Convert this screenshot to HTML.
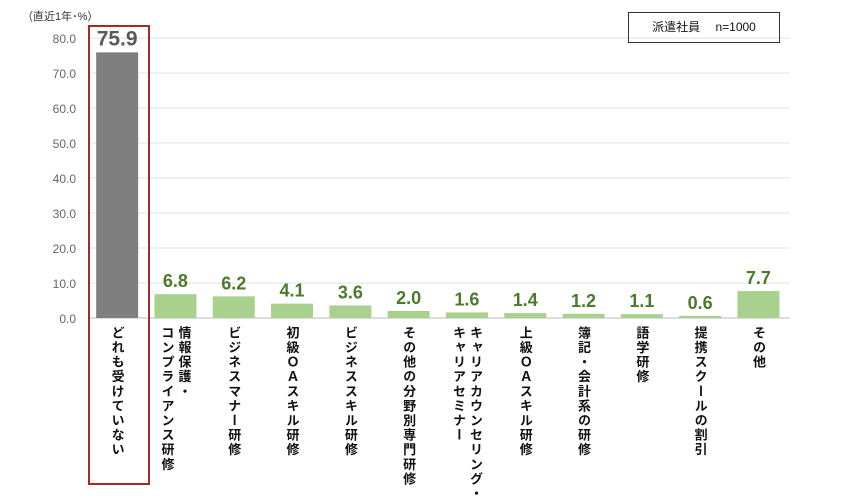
<!DOCTYPE html>
<html><head><meta charset="utf-8"><style>
body{margin:0;width:846px;height:500px;background:#fff;overflow:hidden;font-family:"Liberation Sans","Noto Sans CJK JP",sans-serif;}
svg{position:absolute;left:0;top:0}
.xl{position:absolute;top:326px;writing-mode:vertical-rl;font-size:13px;font-weight:bold;line-height:17px;color:#111;white-space:nowrap;letter-spacing:1.6px;transform:translateX(-50%)}
</style></head><body>
<svg id="c" width="846" height="500"></svg>
<div style="position:absolute;left:628px;top:12px;width:150px;height:29px;border:1px solid #333;font-size:12px;line-height:29px;text-align:center;color:#111">派遣社員　 n=1000</div>
<div style="position:absolute;left:88px;top:25px;width:58px;height:456px;border:2px solid #a52a2a"></div>
<script>
const categories=["どれも受けていない","情報保護・\nコンプライアンス研修","ビジネスマナー研修","初級ＯＡスキル研修","ビジネススキル研修","その他の分野別専門研修","キャリアカウンセリング・\nキャリアセミナー","上級ＯＡスキル研修","簿記・会計系の研修","語学研修","提携スクールの割引","その他"];
const values=[75.9,6.8,6.2,4.1,3.6,2.0,1.6,1.4,1.2,1.1,0.6,7.7];
const ticks=[0,10,20,30,40,50,60,70,80];
const NS="http://www.w3.org/2000/svg",svg=document.getElementById('c');
const y0=318,ppu=3.5,x0=88,step=58.3,bw=42;
const y=v=>y0-v*ppu, xc=i=>x0+step*(i+0.5);
function mk(t,a){const e=document.createElementNS(NS,t);for(const k in a)e.setAttribute(k,a[k]);svg.appendChild(e);return e;}
const yt=mk('text',{x:22,y:20,'font-size':11,fill:'#333'});yt.textContent='（直近1年･%）';


ticks.forEach(t=>{
 const l=mk('line',{x1:x0,x2:790,y1:y(t),y2:y(t),stroke:t?'#e0e0e0':'#bbb','stroke-width':1});
 
 
 const tx=mk('text',{x:76,y:y(t)+5,'font-size':12,fill:'#666','text-anchor':'end'});tx.textContent=t.toFixed(1);
 
 
});
values.forEach((v,i)=>{
 const r=mk('rect',{x:xc(i)-bw/2,y:y(v),width:bw,height:v*ppu,fill:i?'#a9d18e':'#7f7f7f'});
 
 
 const t=mk('text',{x:xc(i),y:y(v)-7,'font-size':i?18:21,'font-weight':'bold',fill:i?'#4a7a2a':'#595959','text-anchor':'middle'});t.textContent=v.toFixed(1);
 
 
 const d=document.createElement('div');d.className='xl';d.style.left=xc(i)+'px';
 d.innerHTML=categories[i].replace('\n','<br>');
 
 
 document.body.appendChild(d);
});
</script>
</body></html>
